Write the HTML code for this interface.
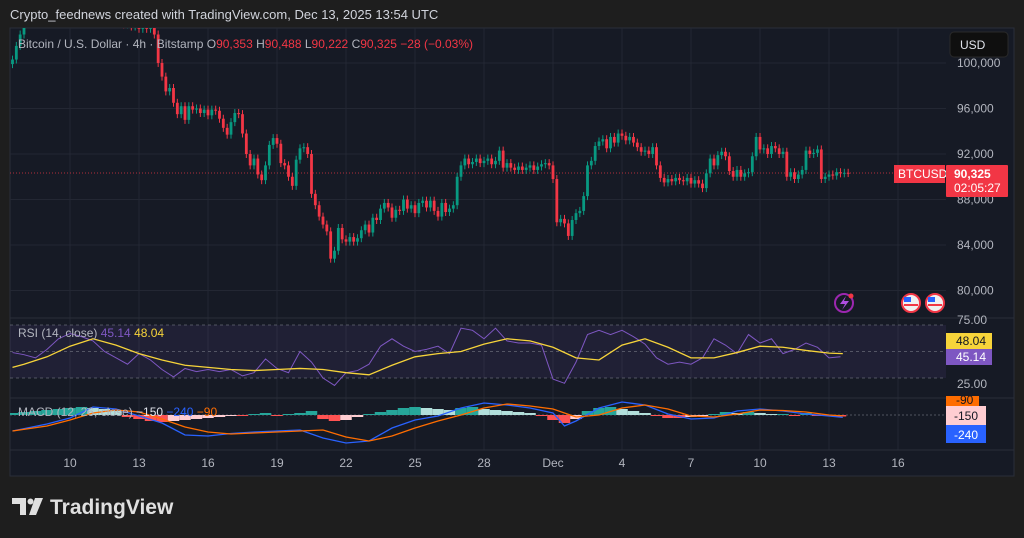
<!DOCTYPE html>
<html><head><meta charset="utf-8">
<style>
html,body{margin:0;padding:0;background:#1e1e1e;width:1024px;height:538px;overflow:hidden;font-family:"Liberation Sans",sans-serif}
svg{display:block}
</style></head>
<body>
<svg id="c" width="1024" height="538" viewBox="0 0 1024 538" xmlns="http://www.w3.org/2000/svg">
<rect x="0" y="0" width="1024" height="538" fill="#1e1e1e"/>
<text x="10" y="19" fill="#d1d4dc" font-size="13">Crypto_feednews created with TradingView.com, Dec 13, 2025 13:54 UTC</text>
<rect x="10" y="28" width="1004" height="448" fill="#161a25" stroke="#2a2e39"/>
<g id="grid"></g>
<defs><clipPath id="pc"><rect x="10" y="28" width="936" height="290"/></clipPath>
<clipPath id="rc"><rect x="10" y="318" width="936" height="80"/></clipPath>
<clipPath id="mc"><rect x="10" y="398" width="936" height="52"/></clipPath></defs>
<rect x="10" y="325" width="936" height="53" fill="rgba(126,87,194,0.10)"/>
<g id="candles" clip-path="url(#pc)"></g>
<g id="rsi" clip-path="url(#rc)"></g>
<g id="macd" clip-path="url(#mc)"></g>
<line x1="10" y1="318" x2="1014" y2="318" stroke="#2a2e39"/>
<line x1="10" y1="398" x2="1014" y2="398" stroke="#2a2e39"/>
<line x1="10" y1="450" x2="1014" y2="450" stroke="#2a2e39"/>
<g id="axes"></g>
<text x="18" y="48" font-size="12" fill="#b2b5be">Bitcoin / U.S. Dollar · 4h · Bitstamp <tspan fill="#b2b5be">O</tspan><tspan fill="#f23645">90,353</tspan> <tspan fill="#b2b5be">H</tspan><tspan fill="#f23645">90,488</tspan> <tspan fill="#b2b5be">L</tspan><tspan fill="#f23645">90,222</tspan> <tspan fill="#b2b5be">C</tspan><tspan fill="#f23645">90,325</tspan> <tspan fill="#f23645">−28 (−0.03%)</tspan></text>
<text x="18" y="337" font-size="12" fill="#b2b5be">RSI (14, close) <tspan fill="#7e57c2">45.14</tspan> <tspan fill="#f7d43a">48.04</tspan></text>
<text x="18" y="416" font-size="12" fill="#b2b5be">MACD (12, 26, close) <tspan fill="#e0e3eb">−150</tspan> <tspan fill="#2962ff">−240</tspan> <tspan fill="#ff6d00">−90</tspan></text>
<rect x="950" y="32" width="58" height="25" rx="4" fill="#0f0f0f" stroke="#2a2a2a"/>
<text x="960" y="49" font-size="12" fill="#e0e3eb">USD</text>
<rect x="894" y="165" width="51" height="18" fill="#f23645"/>
<text x="898" y="178" font-size="12" fill="#fff">BTCUSD</text>
<rect x="946" y="165" width="62" height="32" rx="1" fill="#f23645"/>
<text x="954" y="178" font-size="12" font-weight="bold" fill="#fff">90,325</text>
<text x="954" y="192" font-size="12" fill="#fff">02:05:27</text>
<rect x="946" y="333" width="46" height="16" fill="#f7d43a"/>
<text x="956" y="345" font-size="12" fill="#131722">48.04</text>
<rect x="946" y="349" width="46" height="16" fill="#7e57c2"/>
<text x="956" y="361" font-size="12" fill="#fff">45.14</text>
<rect x="946" y="396" width="33" height="10" fill="#ff6d00"/>
<text x="956" y="404" font-size="12" fill="#131722">-90</text>
<rect x="946" y="406" width="40" height="19" fill="#ffcdd2"/>
<text x="954" y="420" font-size="12" fill="#131722">-150</text>
<rect x="946" y="425" width="40" height="18" fill="#2962ff"/>
<text x="954" y="439" font-size="12" fill="#fff">-240</text>
<g>
<circle cx="844" cy="303" r="9" fill="none" stroke="#9c27b0" stroke-width="2"/>
<path d="M846 296 L840 304 L845 304 L842 310 L849 301 L844 301 Z" fill="#b04ee0"/>
<circle cx="851" cy="296" r="2.5" fill="#f23645"/>
</g>
<g><circle cx="911" cy="303" r="9" fill="#f0f0f0" stroke="#f23645" stroke-width="2"/><rect x="904" y="297" width="7" height="5" fill="#2962ff"/><rect x="904" y="304" width="14" height="2" fill="#f23645"/></g>
<g><circle cx="935" cy="303" r="9" fill="#f0f0f0" stroke="#f23645" stroke-width="2"/><rect x="928" y="297" width="7" height="5" fill="#2962ff"/><rect x="928" y="304" width="14" height="2" fill="#f23645"/></g>
<g>
<path d="M12 498 H26 V515 H20 V504 H12 Z" fill="#e0e0e0"/>
<circle cx="30.5" cy="501.5" r="3" fill="#e0e0e0"/>
<path d="M35 498 H43 L36 515 H29 Z" fill="#e0e0e0"/>
<text x="50" y="514" font-size="21" font-weight="bold" fill="#e0e0e0">TradingView</text>
</g>
</svg>
<script>
const candleStartDay = 7.5;
const closes = [100.3,101.5,102.5,
103.5,104.2,105,104.6,105.5,106,105.2,104.8,105.6,106.2,105.4,104.7,105.1,104.3,103.8,104.5,105.2,104.6,103.9,104.4,103.6,104.1,104.8,104.2,103.7,104.3,103.4,104.0,103.2,
103.5,103,104,103,104,102.5,100,98.8,97.5,97.8,
96.5,95.5,96.2,95,96.2,95.9,96,95.6,95.9,95.4,
95.9,95.8,95.1,94.3,93.7,94.8,95.6,95.5,93.8,92.0,
91.0,91.6,90.2,89.7,91.0,92.8,93.4,92.9,91.2,91.0,
90.0,89.2,91.5,92.5,92.6,92.0,88.5,87.5,86.5,85.8,
85.2,82.8,83.5,85.5,84.5,84.3,84.7,84.3,84.6,85.3,
85.8,85.1,86.4,86.2,87.2,87.7,87.3,86.4,87.1,87.0,
88.0,87.2,87.5,86.8,87.7,87.9,87.3,87.9,87.0,86.5,
87.7,86.9,87.2,87.5,90.0,91.0,91.6,91.1,91.3,91.6,
91.2,91.4,91.6,91.1,91.4,92.3,90.8,91.2,90.8,90.6,
90.9,90.6,90.8,91.0,90.6,90.9,91.1,91.2,91.0,89.8,
86.0,86.3,85.9,84.8,86.2,86.8,87.0,88.3,91.0,91.4,
92.7,93.1,93.3,92.5,93.5,93.0,93.8,93.6,93.2,93.5,
93.0,92.6,92.2,92.3,92.0,92.6,91.0,89.9,89.5,89.8,
89.6,89.9,89.7,89.6,89.9,89.4,89.7,89.4,89.0,90.3,
91.6,91.0,91.9,92.2,91.8,90.5,90.0,90.6,90.0,90.3,
90.4,91.8,93.5,92.4,92.5,92.0,92.7,92.5,92.0,92.2,
90.0,90.4,89.8,90.2,90.6,92.3,92.0,92.1,92.4,89.8,
90.0,90.2,90.1,90.4,90.3,90.35,90.325];
const priceTicks = [100,96,92,88,84,80];
const priceTickLabels = ["100,000","96,000","92,000","88,000","84,000","80,000"];
const dayTicks = [10,13,16,19,22,25,28,31,34,37,40,43,46];
const dayTickLabels = ["10","13","16","19","22","25","28","Dec","4","7","10","13","16"];
const lastPrice = 90.325;
const rsiStartDay = 7.5;
const rsiValues = [49,47,44,52,62,67,64,60,50,44,38,48,42,33,26,34,31,33,31,33,27,30,43,34,30,50,40,25,18,30,32,38,55,62,55,50,52,55,48,72,70,62,72,60,58,58,56,24,20,40,66,70,66,70,64,57,44,38,40,38,44,62,56,48,66,58,62,48,52,58,54,44,45];
const rsiMaDays = [7.5,8,9,10,11,12,13,14,15,16,17,18,19,20,21,22,23,24,25,26,27,28,29,30,31,32,33,34,35,36,37,38,39,40,41,42,43,43.6];
const rsiMaValues = [35,38,45,55,62,56,48,42,37,35,33,32,33,34,33,30,28,37,45,48,50,57,62,60,54,44,42,56,62,54,44,44,49,55,54,51,48.5,48];
const macdDays = [7.5,9,10,11,12,13,14,15,16,17,18,19,20,21,22,23,24,25,26,27,28,29,30,31,31.5,32,33,34,35,36,37,38,39,40,41,42,43,43.6];
const macdValues = [-1600,-900,-300,800,600,-100,-800,-2000,-2100,-1850,-1700,-1600,-1500,-2300,-2800,-2600,-1300,-500,-100,700,1200,1000,700,200,-1100,-600,700,1300,1000,100,-400,-300,400,600,400,100,-100,-240];
const signalValues = [-1600,-1100,-500,200,500,300,-400,-1200,-1700,-1900,-1800,-1700,-1600,-1500,-2200,-2600,-2100,-1300,-600,0,700,1100,900,600,200,-200,0,700,1000,600,-100,-200,100,500,450,300,0,-90];
const histStartDay = 7.5;
const histValues = [200,300,400,500,600,700,800,700,600,400,-200,-400,-600,-700,-600,-500,-400,-300,-200,-100,-100,100,200,-100,100,200,400,-400,-600,-500,-200,100,300,500,700,800,700,600,500,700,800,600,500,400,300,200,-100,-500,-800,-400,400,700,800,600,400,200,-100,-300,-300,-200,-100,100,300,200,300,200,100,100,-100,200,-100,-100,-150];

const NS='http://www.w3.org/2000/svg';
function xDay(d){return 70+(d-10)*23;}
function yPrice(p){return 154-(p-92)*11.38;}
function yRsi(v){return 378-(v-25)*1.06;}
function yMacd(v){return 415-v*0.01;}
function mk(tag,attrs,parent){const e=document.createElementNS(NS,tag);for(const k in attrs)e.setAttribute(k,attrs[k]);parent.appendChild(e);return e;}

const grid=document.getElementById('grid');
priceTicks.forEach((p,i)=>{
  const l=mk('line',{x1:10,x2:946,y1:yPrice(p),y2:yPrice(p),stroke:'#232733'},grid);
  
  
});
dayTicks.forEach(d=>{
  const l=mk('line',{x1:xDay(d),x2:xDay(d),y1:28,y2:450,stroke:'#232733'},grid);
  
  
});
const axes=document.getElementById('axes');
priceTicks.forEach((p,i)=>{
  const t=mk('text',{x:957,y:yPrice(p)+4,'font-size':12,fill:'#b2b5be'},axes);
  t.textContent=priceTickLabels[i];
  
  
});
[[75,'75.00',324],[25,'25.00',388]].forEach(a=>{
  const t=mk('text',{x:957,y:a[2],'font-size':12,fill:'#b2b5be'},axes);
  t.textContent=a[1];
  
  
});
dayTicks.forEach((d,i)=>{
  const t=mk('text',{x:xDay(d),y:467,'font-size':12,fill:'#b2b5be','text-anchor':'middle'},axes);
  t.textContent=dayTickLabels[i];
  
  
});

const cg=document.getElementById('candles');
const pl=mk('line',{x1:10,x2:894,y1:yPrice(lastPrice),y2:yPrice(lastPrice),stroke:'#f23645','stroke-dasharray':'1 2','stroke-opacity':0.7},cg);


closes.forEach((c,i)=>{
  const o=i>0?closes[i-1]:c-0.4;
  const x=xDay(candleStartDay+i/6);
  const up=c>=o;
  const col=up?'#089981':'#f23645';
  const hi=Math.max(o,c)+0.35, lo=Math.min(o,c)-0.35;
  const g=mk('g',{},cg);
  
  
  mk('line',{x1:x,x2:x,y1:yPrice(hi),y2:yPrice(lo),stroke:col,'stroke-width':1},g);
  const yt=yPrice(Math.max(o,c)), yb=yPrice(Math.min(o,c));
  mk('rect',{x:x-1.4,y:yt,width:2.8,height:Math.max(1,yb-yt),fill:col},g);
});

const rg=document.getElementById('rsi');
[75,50,25].forEach(v=>{
  const l=mk('line',{x1:10,x2:946,y1:yRsi(v),y2:yRsi(v),stroke:'#787b86','stroke-dasharray':'3 3','stroke-opacity':0.6},rg);
  
  
});
const rsiPts=rsiValues.map((v,i)=>xDay(rsiStartDay+i*0.5)+','+yRsi(v)).join(' ');
const rl=mk('polyline',{points:rsiPts,fill:'none',stroke:'#7e57c2','stroke-width':1},rg);


const maPts=rsiMaValues.map((v,i)=>xDay(rsiMaDays[i])+','+yRsi(v)).join(' ');
const ml=mk('polyline',{points:maPts,fill:'none',stroke:'#f7d43a','stroke-width':1.3},rg);



const mg=document.getElementById('macd');
const zl=mk('line',{x1:10,x2:946,y1:yMacd(0),y2:yMacd(0),stroke:'#787b86','stroke-dasharray':'2 2','stroke-opacity':0.6},mg);


histValues.forEach((v,i)=>{
  const prev=i>0?histValues[i-1]:v;
  let col;
  if(v>=0) col=v>=prev?'#26a69a':'#b2dfdb'; else col=v<=prev?'#ff5252':'#ffcdd2';
  const x=xDay(histStartDay+i*0.5);
  const y0=yMacd(0), y1=yMacd(v);
  const r=mk('rect',{x:x-5.75,y:Math.min(y0,y1),width:11.5,height:Math.max(0.8,Math.abs(y1-y0)),fill:col},mg);
  
  
});
const mPts=macdValues.map((v,i)=>xDay(macdDays[i])+','+yMacd(v)).join(' ');
const mLine=mk('polyline',{points:mPts,fill:'none',stroke:'#2962ff','stroke-width':1.3},mg);


const sPts=signalValues.map((v,i)=>xDay(macdDays[i])+','+yMacd(v)).join(' ');
const sLine=mk('polyline',{points:sPts,fill:'none',stroke:'#ff6d00','stroke-width':1.3},mg);


</script>
</body></html>
